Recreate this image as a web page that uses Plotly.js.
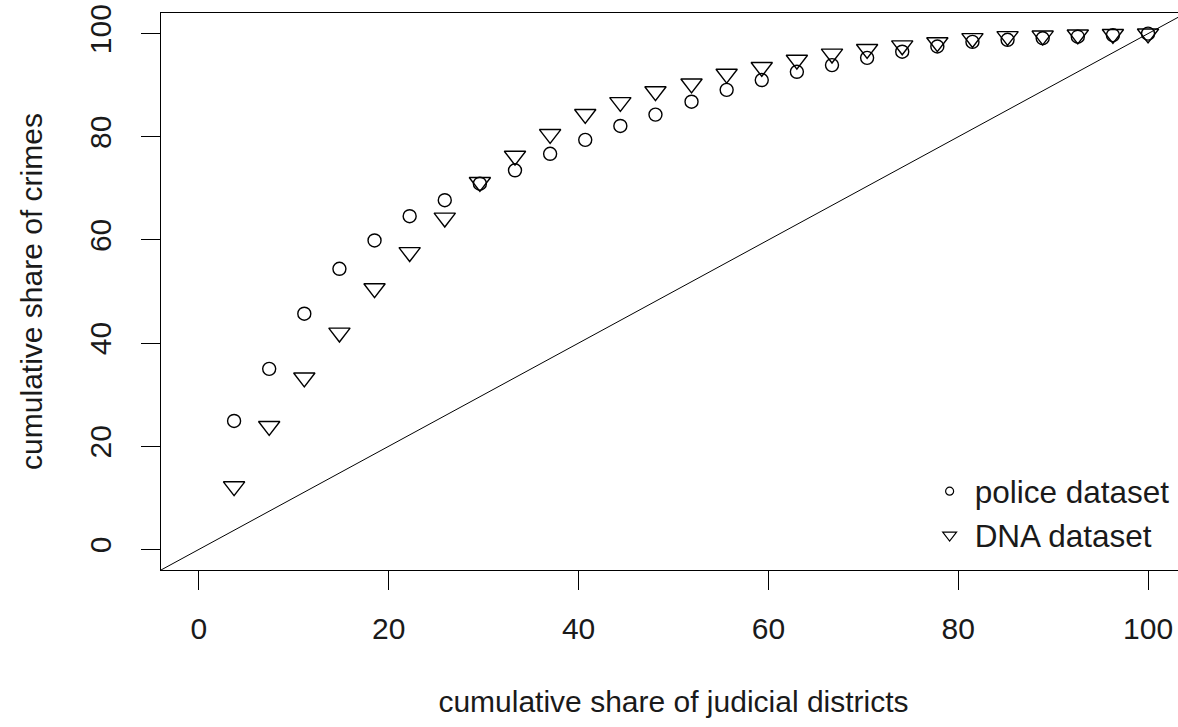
<!DOCTYPE html>
<html>
<head>
<meta charset="utf-8">
<script src="https://cdn.plot.ly/plotly-3.0.1.min.js"></script>
<style>
html, body { margin: 0; padding: 0; overflow: hidden; background: #fff; }
#chart { width: 1186px; height: 727px; }
</style>
</head>
<body>
<div id="chart"></div>
<script>
// cumulative share of judicial districts (%)
const districtShare = [3.7, 7.4, 11.1, 14.8, 18.5, 22.2, 25.9, 29.6, 33.3, 37.0, 40.7, 44.4, 48.1, 51.9,
  55.6, 59.3, 63.0, 66.7, 70.4, 74.1, 77.8, 81.5, 85.2, 88.9, 92.6, 96.3, 100.0];
// cumulative share of crimes (%) - police dataset
const policeShare = [24.9, 35.0, 45.7, 54.4, 59.9, 64.6, 67.7, 70.9, 73.5, 76.7, 79.4, 82.1, 84.3, 86.8,
  89.1, 91.0, 92.6, 93.9, 95.3, 96.5, 97.5, 98.4, 98.8, 99.1, 99.4, 99.7, 100.0];
// cumulative share of crimes (%) - DNA dataset
const dnaShare = [12.2, 23.9, 33.3, 42.0, 50.6, 57.6, 64.3, 71.2, 76.3, 80.5, 84.4, 86.7, 88.8, 90.3,
  92.2, 93.5, 94.9, 96.1, 97.0, 97.7, 98.3, 99.1, 99.5, 99.6, 99.8, 99.9, 100.0];
const seriesNames = ["police dataset", "DNA dataset"];
const axisRange = [-4, 104];
const tickValues = [0, 20, 40, 60, 80, 100];

const FONT = "Liberation Sans, Arial, sans-serif";

const traces = [
  { // equality line
    x: axisRange, y: axisRange, mode: "lines", showlegend: false, hoverinfo: "skip",
    line: { color: "#000", width: 1 }
  },
  {
    x: districtShare, y: policeShare, mode: "markers", name: seriesNames[0], showlegend: false,
    marker: { symbol: "circle-open", size: 13, color: "#000", line: { width: 1.4, color: "#000" } }
  },
  {
    x: districtShare, y: dnaShare, mode: "markers", name: seriesNames[1], showlegend: false,
    marker: { symbol: "triangle-down-open", size: 18.5, color: "#000", line: { width: 1.4, color: "#000" } }
  },
  { // legend entries
    x: [null], y: [null], mode: "markers", name: seriesNames[0], showlegend: true,
    marker: { symbol: "circle-open", size: 8, color: "#000", line: { width: 1.2, color: "#000" } }
  },
  {
    x: [null], y: [null], mode: "markers", name: seriesNames[1], showlegend: true,
    marker: { symbol: "triangle-down-open", size: 12, color: "#000", line: { width: 1.2, color: "#000" } }
  }
];

const axisCommon = {
  range: axisRange, autorange: false, zeroline: false, showgrid: false,
  showline: true, mirror: true, linecolor: "#000", linewidth: 1,
  ticks: "outside", ticklen: 19, tickwidth: 1, tickcolor: "#000",
  tickmode: "array", tickvals: tickValues,
  tickfont: { family: FONT, size: 30, color: "#1a1a1a" }
};

const layout = {
  width: 1186, height: 727,
  margin: { l: 161, r: 0, t: 13, b: 157 },
  paper_bgcolor: "#fff", plot_bgcolor: "#fff",
  font: { family: FONT, color: "#1a1a1a" },
  xaxis: Object.assign({}, axisCommon, {
    ticklabelstandoff: 13,
    title: { text: "cumulative share of judicial districts", font: { family: FONT, size: 30, color: "#1a1a1a" }, standoff: 46 }
  }),
  yaxis: Object.assign({}, axisCommon, {
    tickangle: -90,
    ticklabelstandoff: 18,
    title: { text: "cumulative share of crimes", font: { family: FONT, size: 30, color: "#1a1a1a" }, standoff: 32 }
  }),
  legend: {
    x: 0.745, y: 0.19, xanchor: "left", yanchor: "top",
    bgcolor: "rgba(0,0,0,0)", borderwidth: 0,
    font: { family: FONT, size: 31.5, color: "#1a1a1a" },
    itemwidth: 40, tracegroupgap: 0
  },
  showlegend: true
};

Plotly.newPlot("chart", traces, layout, { staticPlot: true, displayModeBar: false });
</script>
</body>
</html>
